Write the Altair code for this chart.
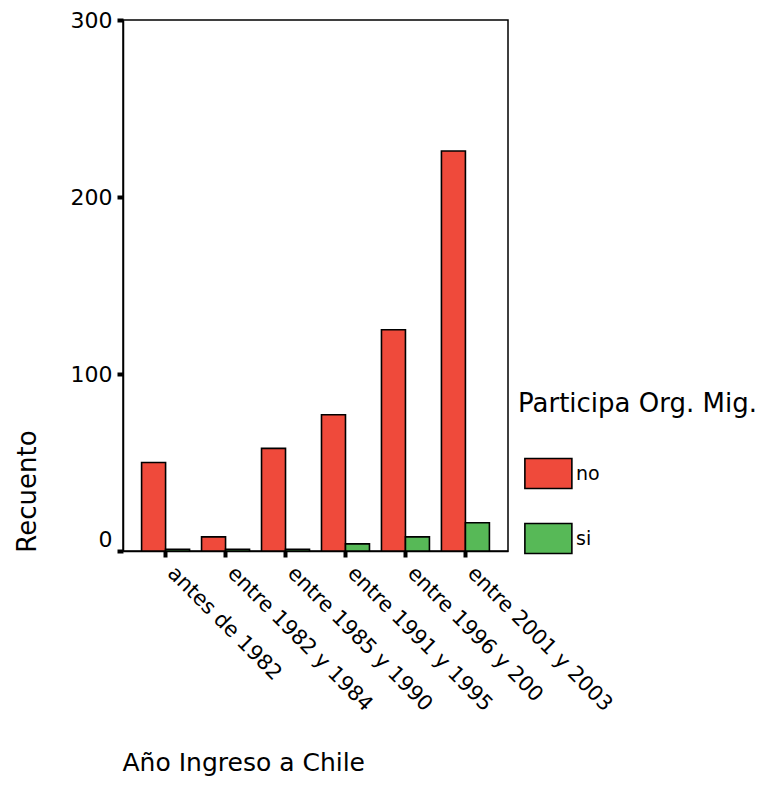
import altair as alt
import pandas as pd

categories = ["antes de 1982", "entre 1982 y 1984", "entre 1985 y 1990",
              "entre 1991 y 1995", "entre 1996 y 200", "entre 2001 y 2003"]
no_values = [50, 8, 58, 77, 125, 226]
si_values = [1, 1, 1, 4, 8, 16]
groups = ["no", "si"]
colors = ["#EF4A3B", "#57B957"]

rows = []
for c, n, s in zip(categories, no_values, si_values):
    rows.append({"cat": c, "grp": "no", "val": n})
    rows.append({"cat": c, "grp": "si", "val": s})
df = pd.DataFrame(rows)

FONT = "DejaVu Sans"

chart = alt.Chart(df).mark_bar(stroke="black", strokeWidth=1.6).encode(
    x=alt.X("cat:N", sort=categories,
            scale=alt.Scale(paddingInner=0.2, paddingOuter=0.31),
            axis=alt.Axis(title="Año Ingreso a Chile", labelAngle=45,
                          labelAlign="left", labelBaseline="top",
                          labelFontSize=21, labelFont=FONT, labelColor="black",
                          labelPadding=5, labelOffset=13, labelLimit=0,
                          tickSize=6, tickWidth=4, tickColor="black",
                          domainColor="black", domainWidth=1.5,
                          titleFontSize=25, titleFont=FONT, titleFontWeight="normal",
                          titleColor="black", titleX=-1, titleY=219,
                          titleAlign="left", titleBaseline="alphabetic")),
    xOffset=alt.XOffset("grp:N", sort=groups),
    y=alt.Y("val:Q", scale=alt.Scale(domain=[0, 300], nice=False),
            axis=alt.Axis(title="Recuento", values=[0, 100, 200, 300], grid=False,
                          labelFontSize=22, labelFont=FONT, labelColor="black",
                          labelPadding=5,
                          labelBaseline={"condition": {"test": "datum.value == 0", "value": "bottom"}, "value": "middle"},
                          tickSize=6, tickWidth=4, tickColor="black",
                          domainColor="black", domainWidth=1.5,
                          titleFontSize=26, titleFont=FONT, titleFontWeight="normal",
                          titleColor="black", titleX=-88, titleY=471,
                          titleAngle=-90, titleAlign="center", titleBaseline="alphabetic")),
    color=alt.Color("grp:N", sort=groups,
                    scale=alt.Scale(domain=groups, range=colors),
                    legend=alt.Legend(title="Participa Org. Mig.", orient="none",
                                      legendX=395, legendY=371,
                                      titleFontSize=26, titleFont=FONT,
                                      titleFontWeight="normal", titleColor="black",
                                      titlePadding=32, titleLimit=0,
                                      labelFontSize=19, labelFont=FONT, labelColor="black",
                                      labelOffset=9, labelLimit=0,
                                      symbolType="M-0.75,-0.64L1.25,-0.64L1.25,0.64L-0.75,0.64Z",
                                      symbolSize=2209, symbolStrokeColor="black",
                                      symbolStrokeWidth=1.6, symbolOpacity=1,
                                      rowPadding=22, offset=0)),
).properties(
    width=385, height=531,
    autosize=alt.AutoSizeParams(type="none"),
    padding={"left": 115, "top": 12, "right": 258, "bottom": 226},
).configure(
    background="white"
).configure_view(
    stroke="black", strokeWidth=1.5
)

chart.save("out.html", embed_options={"renderer": "svg", "actions": False})
